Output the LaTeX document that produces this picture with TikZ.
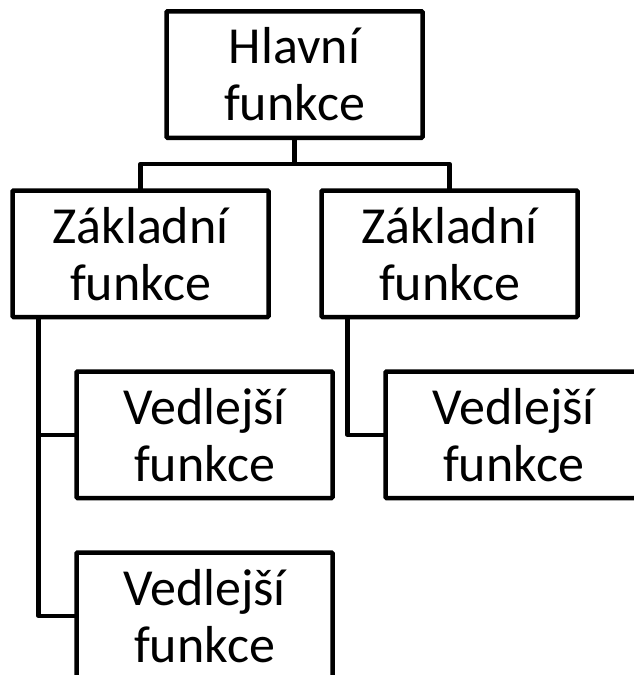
\documentclass[tikz,border=0pt]{standalone}
\usepackage{fontspec}
\setmainfont{Carlito}
\usetikzlibrary{calc}
\begin{document}
\begin{tikzpicture}[x=1pt,y=-1pt,
  box/.style={draw, line width=4.5pt, rounded corners=1pt, outer sep=0pt,
    minimum width=256pt, minimum height=126.5pt, inner sep=0pt,
    align=center, anchor=north west,
    font=\fontsize{52}{57}\selectfont},
  link/.style={line width=4.5pt, line join=round}]
\useasboundingbox (0,0) rectangle (633,675);

% boxes
\node[box] (main) at (166.5,11.3) {Hlavní\\funkce};
\node[box] (lz)   at (12.5,190.5) {Základní\\funkce};
\node[box] (rz)   at (321.5,190.5) {Základní\\funkce};
\node[box] (lv1)  at (76.5,371.5) {Vedlejší\\funkce};
\node[box] (lv2)  at (76.5,552.5) {Vedlejší\\funkce};
\node[box] (rv)   at (385.5,371.5) {Vedlejší\\funkce};

% connectors from the main function
\coordinate (bus) at ($(main.south)+(0,26)$);
\draw[link] (main.south) -- (bus);
\draw[link] (lz.north) |- (bus) -| (rz.north);

% side spines to the secondary functions
\coordinate (lspine) at ($(lz.south west)+(26,0)$);
\coordinate (rspine) at ($(rz.south west)+(26,0)$);
\draw[link] (lspine) |- (lv1.west);
\draw[link] (lspine) |- (lv2.west);
\draw[link] (rspine) |- (rv.west);
\end{tikzpicture}
\end{document}
